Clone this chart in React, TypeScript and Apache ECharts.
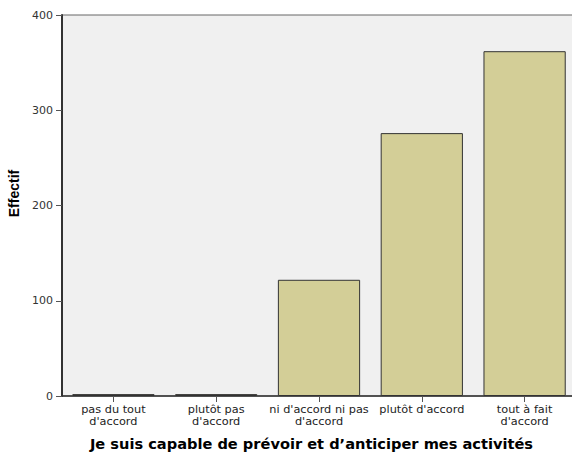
import React, { useEffect, useRef } from "react";
import * as echarts from "echarts";

const categories = [
  "pas du tout\nd'accord",
  "plutôt pas\nd'accord",
  "ni d'accord ni pas\nd'accord",
  "plutôt d'accord",
  "tout à fait\nd'accord",
];
const counts = [2, 2, 122, 276, 362];
const yTicks = { min: 0, max: 400, interval: 100 };
const xTitle = "Je suis capable de prévoir et d’anticiper mes activités";
const yTitle = "Effectif";

export default function App() {
  const ref = useRef<HTMLDivElement>(null);
  useEffect(() => {
    document.body.style.margin = "0";
    const chart = echarts.init(ref.current!, null, { renderer: "svg" });
    chart.setOption({
      animation: false,
      backgroundColor: "#ffffff",
      textStyle: { fontFamily: "DejaVu Sans, sans-serif" },
      grid: {
        left: 62,
        right: -4,
        top: 15,
        bottom: 63,
        containLabel: false,
        outerBoundsMode: "none",
        show: true,
        backgroundColor: "#f0f0f0",
        borderColor: "#666666",
        borderWidth: 1,
      },
      xAxis: {
        type: "category",
        data: categories,
        name: xTitle,
        nameLocation: "middle",
        nameGap: 40,
        nameTextStyle: {
          fontFamily: "DejaVu Sans, sans-serif",
          fontSize: 14.6,
          fontWeight: "bold",
          color: "#000000",
          padding: [0, 15, 0, 0],
        },
        axisLine: { lineStyle: { color: "#333333", width: 1.5 } },
        axisTick: { show: true, alignWithLabel: true, length: 6, lineStyle: { color: "#555555" } },
        axisLabel: {
          interval: 0,
          fontSize: 11.3,
          color: "#222222",
          lineHeight: 11.5,
          margin: 8,
          verticalAlign: "top",
        },
      },
      yAxis: {
        type: "value",
        min: yTicks.min,
        max: yTicks.max,
        interval: yTicks.interval,
        name: yTitle,
        nameLocation: "middle",
        nameGap: 37,
        nameTextStyle: {
          fontFamily: "Liberation Sans, Arial, sans-serif",
          fontSize: 14,
          fontWeight: "bold",
          color: "#000000",
          padding: [0, 0, 0, 24],
        },
        axisLine: { show: true, lineStyle: { color: "#333333", width: 2 } },
        axisTick: { show: true, length: 6, lineStyle: { color: "#555555" } },
        splitLine: { show: false },
        axisLabel: { fontSize: 11, color: "#333333", margin: 9 },
      },
      series: [
        {
          type: "bar",
          data: counts,
          barCategoryGap: "20%",
          itemStyle: { color: "#d3ce97", borderColor: "#333333", borderWidth: 1 },
        },
      ],
    });
    return () => chart.dispose();
  }, []);
  return <div ref={ref} style={{ position: "fixed", left: 0, top: 0, width: 572, height: 459 }} />;
}
